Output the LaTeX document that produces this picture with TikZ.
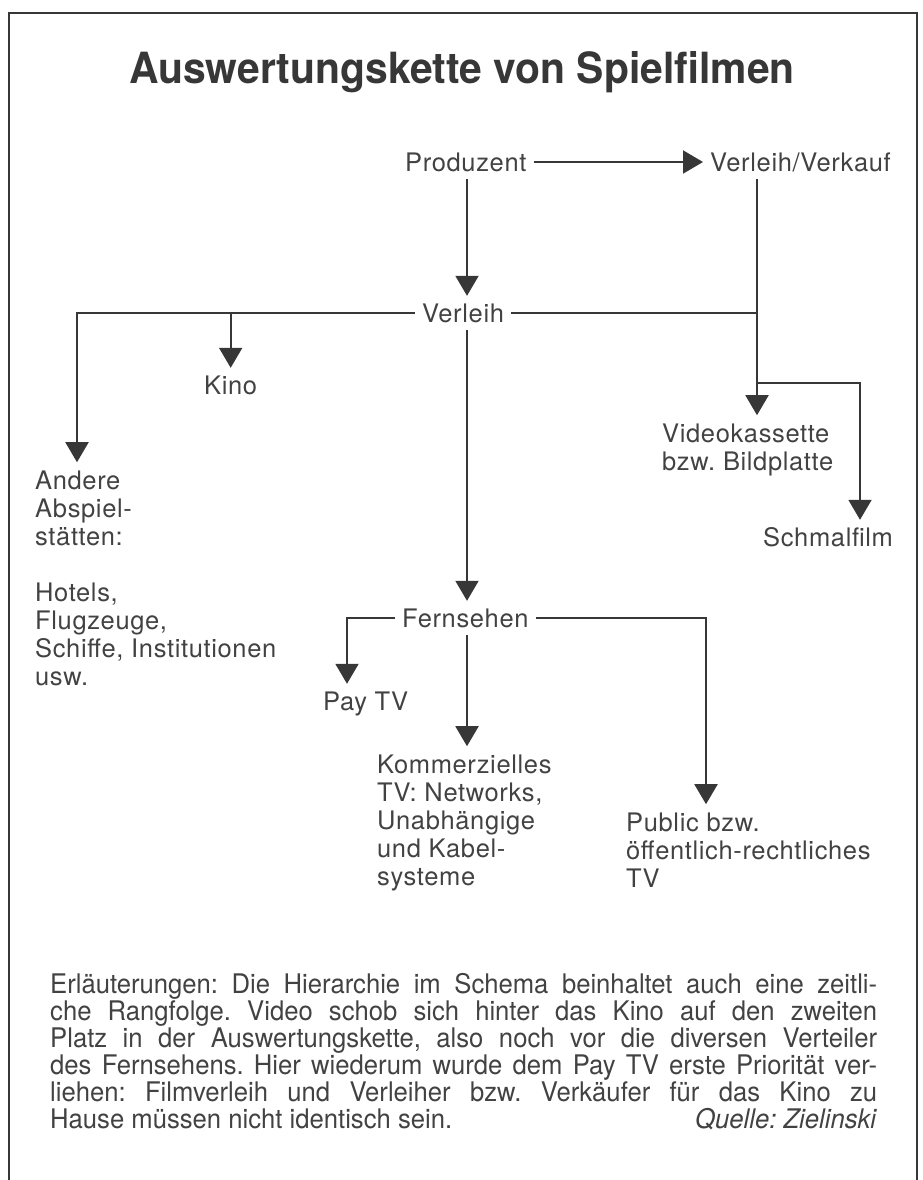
\documentclass[tikz,border=0pt]{standalone}
\usepackage{fontspec}
\setmainfont{TeX Gyre Heros}
\newfontfamily\lblfont[LetterSpace=2.5]{TeX Gyre Heros}
\newfontfamily\titlefont[FakeStretch=0.95]{TeX Gyre Heros}
\newfontfamily\explfont[FakeStretch=0.95]{TeX Gyre Heros}
\usetikzlibrary{arrows.meta}
\definecolor{ink}{RGB}{55,55,55}
\definecolor{txt}{RGB}{66,66,66}
\newcommand{\mlines}[1]{\vtop{\halign{##\hfil\cr#1\crcr}}}
\frenchspacing
\begin{document}
\begin{tikzpicture}[x=1pt,y=-1pt,
  lbl/.style={font=\lblfont\fontsize{25.5}{28}\selectfont, text=txt, inner xsep=7pt, inner ysep=8pt, text height=18pt, text depth=0pt, anchor=base west},
  mlbl/.style={font=\lblfont\fontsize{25.5}{28}\selectfont, text=txt, inner xsep=0pt, inner ysep=8pt, anchor=base west},
  arr/.style={draw=ink, line width=2pt, -{Triangle[length=20pt,width=23pt]}},
  conn/.style={draw=ink, line width=2pt},
  frame/.style={draw=ink, line width=1.3pt}]

\useasboundingbox (0,0) rectangle (922,1180);
\draw[frame] (9,1180) -- (9,13) -- (917,13) -- (917,1180);

\node[font=\titlefont\fontsize{43}{43}\selectfont\bfseries, text=ink, anchor=base, inner sep=0] (title) at (462,84) {Auswertungskette von Spielfilmen};

\node[lbl] (prod) at (398,171) {Produzent};
\node[lbl] (vv) at (703,171) {Verleih/Verkauf};
\node[lbl] (verl) at (415,322) {Verleih};
\node[lbl] (kino) at (197,394) {Kino};
\node[mlbl] (andere) at (35,489) {\mlines{Andere\cr Abspiel-\cr stätten:\cr\cr Hotels,\cr Flugzeuge,\cr Schiffe, Institutionen\cr usw.}};
\node[mlbl] (video) at (662,442) {\mlines{Videokassette\cr bzw. Bildplatte}};
\node[lbl] (schmal) at (756,546) {Schmalfilm};
\node[lbl] (fern) at (395,627) {Fernsehen};
\node[lbl] (pay) at (316,710) {Pay TV};
\node[mlbl] (komm) at (377,773) {\mlines{Kommerzielles\cr TV: Networks,\cr Unabhängige\cr und Kabel-\cr systeme}};
\node[mlbl] (pub) at (626,831) {\mlines{Public bzw.\cr öffentlich-rechtliches\cr TV}};

\coordinate (cx) at (467,0);
\coordinate (ax) at (77,0);
\coordinate (vx) at (757,0);
\coordinate (sx) at (860,0);
\coordinate (px) at (347,0);
\coordinate (ux) at (706,0);
\coordinate (bj) at (757,383);

\draw[arr] (prod.east) -- (vv.west);
\draw[arr] (prod.south -| cx) -- (verl.north -| cx);
\draw[arr] (verl.west) -| (ax |- andere.north);
\draw[arr] (verl.west -| kino.north) -- (kino.north);
\draw[conn] (verl.east) -- (verl.east -| vx);
\draw[arr] (vv.south -| vx) -- (video.north -| vx);
\draw[arr] (bj) -| (sx |- schmal.north);
\draw[arr] (verl.south -| cx) -- (fern.north -| cx);
\draw[arr] (fern.west) -| (px |- pay.north);
\draw[arr] (fern.south -| cx) -- (komm.north -| cx);
\draw[arr] (fern.east) -| (ux |- pub.north);

\node[font=\explfont\fontsize{27}{27}\selectfont, text=txt, inner sep=0, anchor=base west] (expl) at (50,993) {\mlines{%
\makebox[827pt][s]{Erläuterungen: Die Hierarchie im Schema beinhaltet auch eine zeitli-}\cr
\makebox[827pt][s]{che Rangfolge. Video schob sich hinter das Kino auf den zweiten}\cr
\makebox[827pt][s]{Platz in der Auswertungskette, also noch vor die diversen Verteiler}\cr
\makebox[827pt][s]{des Fernsehens. Hier wiederum wurde dem Pay TV erste Priorität ver-}\cr
\makebox[827pt][s]{liehen: Filmverleih und Verleiher bzw. Verkäufer für das Kino zu}\cr
\makebox[827pt][s]{Hause müssen nicht identisch sein.\hfill\textit{Quelle: Zielinski}}}};
\end{tikzpicture}
\end{document}
